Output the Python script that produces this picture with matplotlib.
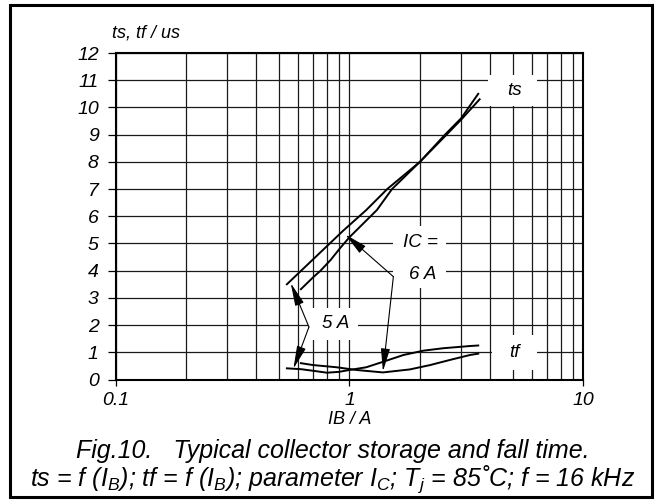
import matplotlib
matplotlib.use("Agg")
import matplotlib.pyplot as plt
from matplotlib.patches import Rectangle
from matplotlib.ticker import LogLocator, NullFormatter, FixedLocator

plt.rcParams['font.family'] = ['Liberation Sans', 'DejaVu Sans']
plt.rcParams['font.style'] = 'italic'
plt.rcParams['mathtext.fontset'] = 'custom'
plt.rcParams['mathtext.it'] = 'Liberation Sans:italic'
plt.rcParams['mathtext.rm'] = 'Liberation Sans:italic'

# ts curves (IB in A, ts in us)
ib_ts_5 = [0.54, 0.94, 1.18, 1.45, 2.0, 2.6, 3.0, 3.6]
ts_5 = [3.5, 5.47, 6.23, 7.0, 8.0, 9.0, 9.55, 10.3]
ib_ts_6 = [0.62, 0.70, 0.75, 0.83, 0.91, 1.0, 1.31, 1.52, 2.0, 2.56, 3.0, 3.55]
ts_6 = [3.32, 3.76, 3.99, 4.39, 4.82, 5.23, 6.23, 7.0, 8.0, 9.0, 9.6, 10.5]

# tf curves
ib_tf_5 = [0.54, 0.62, 0.70, 0.80, 0.90, 1.0, 1.18, 1.39, 1.70, 2.07, 2.52, 3.27, 3.55]
tf_5 = [0.41, 0.38, 0.32, 0.25, 0.28, 0.35, 0.45, 0.65, 0.9, 1.06, 1.15, 1.23, 1.25]
ib_tf_6 = [0.62, 0.70, 0.88, 1.07, 1.39, 1.81, 2.21, 2.69, 3.27, 3.55]
tf_6 = [0.6, 0.53, 0.45, 0.35, 0.26, 0.37, 0.53, 0.72, 0.9, 0.95]

x_ticks = [0.1, 1, 10]
x_ticklabels = ['0.1', '1', '10']
y_ticks = list(range(0, 13))

fig = plt.figure(figsize=(6.65, 5.0), dpi=100)
ax = fig.add_axes([0.1737, 0.241, 0.7037, 0.653])

ax.set_xscale('log')
ax.set_xlim(0.1, 10)
ax.set_ylim(0, 12)
ax.xaxis.set_major_locator(FixedLocator(x_ticks))
ax.set_xticklabels(x_ticklabels)
ax.xaxis.set_minor_locator(LogLocator(base=10, subs=range(2, 10)))
ax.xaxis.set_minor_formatter(NullFormatter())
ax.set_yticks(y_ticks)

ax.grid(which='both', axis='x', color='0.1', lw=0.9)
ax.grid(which='major', axis='y', color='0.1', lw=0.9)
ax.set_axisbelow(True)
ax.tick_params(axis='y', direction='out', length=6, width=0.9, pad=6, labelsize=14)
ax.tick_params(axis='x', which='major', direction='out', length=4, width=0.9, pad=5, labelsize=14)
ax.tick_params(axis='x', which='minor', length=0)
for s in ax.spines.values():
    s.set_linewidth(1.5)

# white label boxes covering the grid
boxes = [(3.89, 10.05, 6.35, 11.2), (4.08, 0.35, 6.35, 1.64),
         (0.665, 1.45, 1.087, 2.63), (1.53, 4.45, 2.58, 5.65),
         (1.53, 3.35, 2.58, 4.45)]
for x0, y0, x1, y1 in boxes:
    ax.add_patch(Rectangle((x0, y0), x1 - x0, y1 - y0, facecolor='white',
                           edgecolor='none', zorder=1.5))

for xs, ys in [(ib_ts_5, ts_5), (ib_ts_6, ts_6), (ib_tf_5, tf_5), (ib_tf_6, tf_6)]:
    ax.plot(xs, ys, color='black', lw=1.4, zorder=3)

lab = dict(ha='center', va='center', fontsize=13.5, zorder=4)
ax.text(5.07, 10.62, 'ts', **lab)
ax.text(5.07, 0.99, 'tf', **lab)
ax.text(2.01, 5.03, 'IC =', **lab)
ax.text(2.05, 3.85, '6 A', **lab)
ax.text(0.876, 2.07, '5 A', **lab)

arrow = dict(arrowstyle='-|>,head_length=1.0,head_width=0.2', color='black',
             lw=0.8, shrinkA=0, shrinkB=0, mutation_scale=14)
for tip, base in [((0.561, 3.54), (0.671, 1.93)), ((0.576, 0.40), (0.671, 1.93)),
                  ((0.96, 5.33), (1.54, 3.78)), ((1.39, 0.30), (1.54, 3.78))]:
    ax.annotate('', xy=tip, xytext=base, arrowprops=arrow, zorder=4)

fig.text(112 / 665, 1 - 37 / 500, 'ts, tf / us', ha='left', va='baseline', fontsize=13)
fig.text(349.5 / 665, 1 - 419 / 500, 'IB / A', ha='center', va='center', fontsize=13)

fig.text(0.5, 1 - 458 / 500, 'Fig.10.   Typical collector storage and fall time.',
         ha='center', va='baseline', fontsize=18)
fig.text(0.5, 1 - 486 / 500,
         'ts = f (I$_B$); tf = f (I$_B$); parameter I$_C$; T$_j$ = 85\u02daC; f = 16 kHz',
         ha='center', va='baseline', fontsize=18)

fig.patches.append(Rectangle((10 / 665, 3 / 500), 641.5 / 665, 492 / 500,
                             transform=fig.transFigure, fill=False,
                             edgecolor='black', lw=2.2))

fig.savefig('out.png', dpi=100)
